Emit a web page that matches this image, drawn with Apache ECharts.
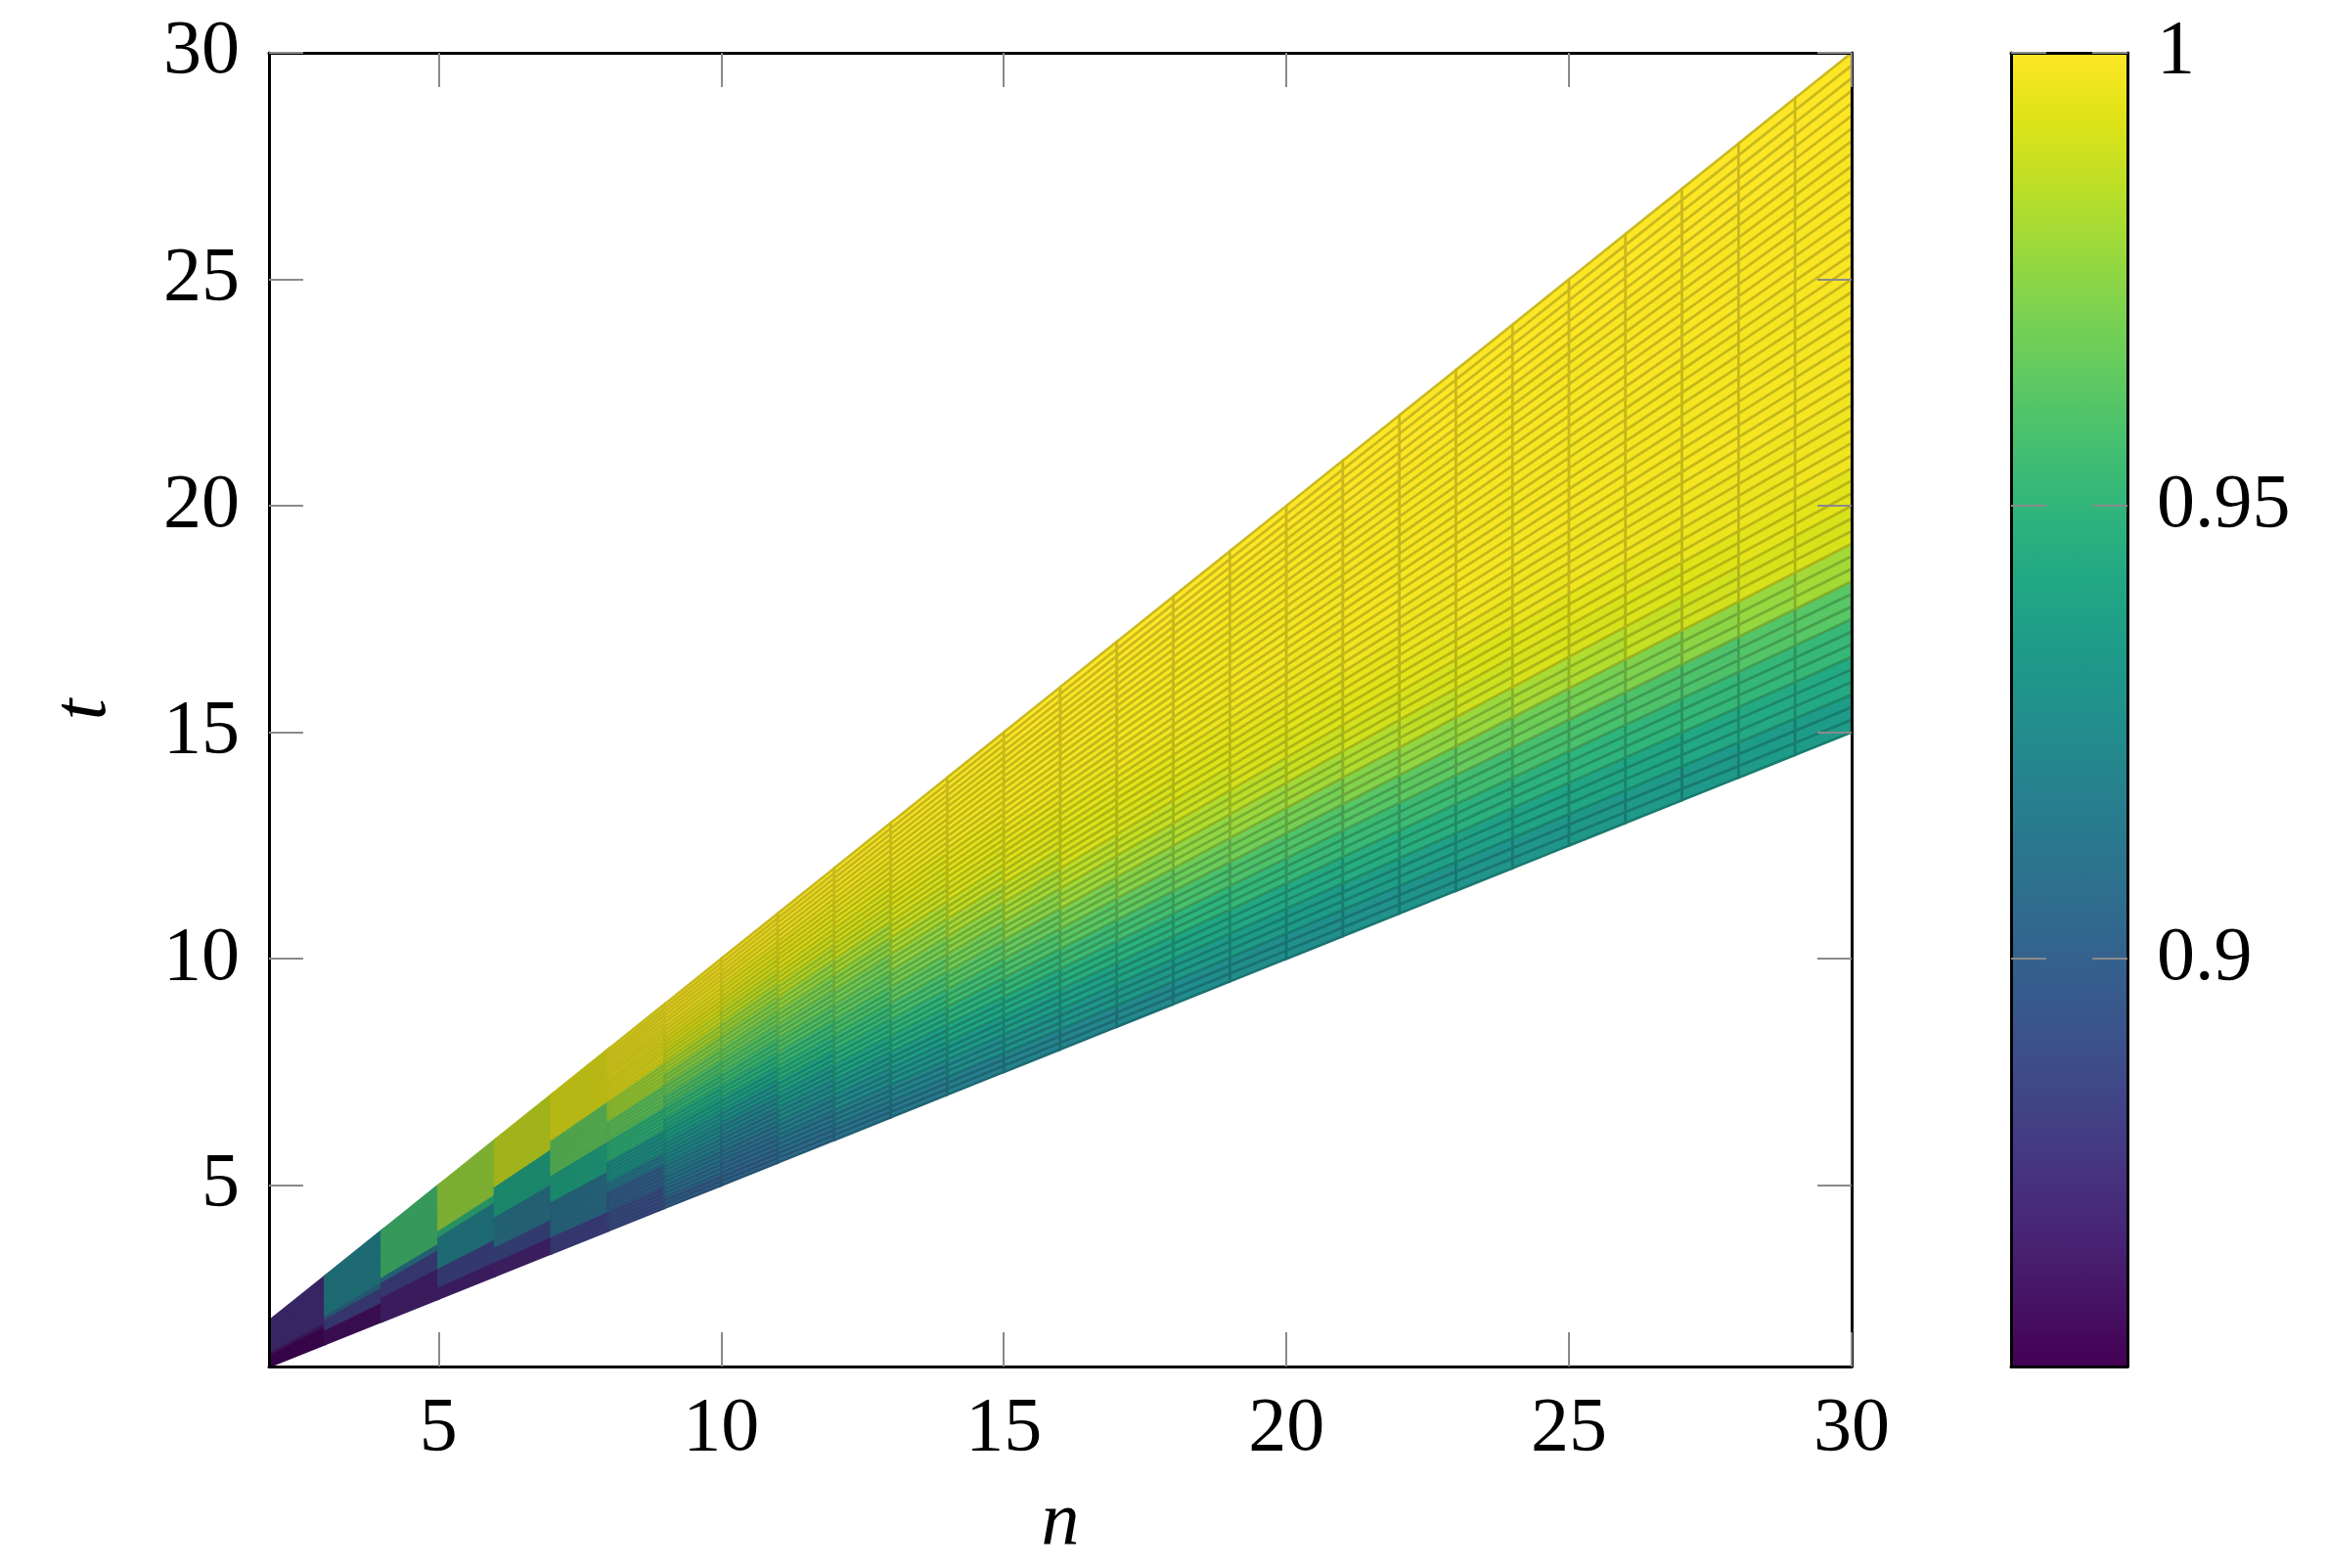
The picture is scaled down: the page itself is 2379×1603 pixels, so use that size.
<!DOCTYPE html>
<html>
<head>
<meta charset="utf-8">
<script src="https://cdn.jsdelivr.net/npm/echarts@6/dist/echarts.min.js"></script>
<style>html,body{margin:0;padding:0;background:#fff}#c{width:2379px;height:1603px}</style>
</head>
<body>
<div id="c"></div>
<script>
// ---- data ----
// left-corner n of each column of patches
const nValues = [2,3,4,5,6,7,8,9,10,11,12,13,14,15,16,17,18,19,20,21,22,23,24,25,26,27,28,29];
// value per band, from the lower edge t = n/2 (first) to the upper edge t = n (last)
const v02 = [.858,.858,.858,.858,.858,.866,.875,.875,.875,.875,.875,.875,.875,.875,.875,.875,.875,.875];
const v03 = [.862,.862,.862,.862,.884,.884,.884,.905,.920,.920,.920,.920,.920,.920,.920,.920,.920,.920];
const v04 = [.869,.869,.869,.869,.869,.884,.884,.884,.913,.956,.956,.956,.956,.956,.956,.956,.956,.956];
const v05 = [.869,.869,.885,.885,.885,.920,.920,.920,.920,.920,.950,.978,.978,.978,.978,.978,.978,.978];
const v06 = [.870,.870,.887,.887,.913,.913,.913,.913,.942,.942,.942,.942,.988,.988,.988,.988,.988,.988];
const v07 = [.884,.884,.910,.910,.910,.910,.942,.942,.942,.965,.965,.965,.965,.994,.994,.994,.994,.994];
const v08 = [.890,.890,.900,.900,.915,.930,.930,.950,.950,.965,.965,.980,.980,.995,.995,.996,.997,.997];
const v09 = [.899,.907,.912,.917,.923,.929,.937,.944,.952,.959,.967,.974,.982,.989,.993,.996,.998,.999];
const v10 = [.902,.905,.910,.915,.921,.928,.938,.947,.954,.961,.967,.973,.979,.986,.991,.994,.997,.999];
const v11 = [.907,.912,.917,.924,.931,.939,.947,.953,.960,.966,.971,.977,.984,.990,.993,.995,.997,.999];
const v12 = [.911,.917,.924,.931,.939,.946,.952,.958,.964,.969,.975,.981,.988,.991,.994,.996,.998,.999];
const v13 = [.914,.921,.929,.936,.944,.950,.957,.964,.970,.976,.982,.988,.991,.993,.996,.997,.998,.999];
const v14 = [.917,.925,.933,.941,.948,.955,.962,.969,.975,.981,.987,.991,.993,.995,.997,.998,.998,.999];
const v15 = [.920,.928,.936,.943,.951,.959,.966,.974,.980,.986,.991,.993,.995,.997,.998,.998,.999,1.0];
const v16 = [.922,.931,.938,.946,.954,.963,.971,.979,.985,.991,.992,.994,.996,.997,.998,.999,.999,1.0];
const v17 = [.923,.932,.940,.948,.956,.965,.974,.981,.987,.991,.993,.995,.997,.998,.998,.999,.999,1.0];
const v18 = [.925,.933,.941,.949,.958,.967,.976,.983,.989,.992,.994,.996,.997,.998,.998,.999,.999,1.0];
const v19 = [.926,.934,.942,.951,.959,.969,.978,.985,.991,.993,.995,.997,.998,.998,.998,.999,.999,1.0];
const v20 = [.927,.935,.943,.952,.960,.970,.980,.988,.992,.994,.996,.997,.998,.998,.999,.999,.999,1.0];
const v21 = [.928,.936,.945,.953,.962,.973,.983,.990,.993,.995,.997,.998,.998,.998,.999,.999,1.0,1.0];
const v22 = [.929,.937,.946,.954,.964,.976,.986,.991,.994,.996,.997,.998,.998,.998,.999,.999,1.0,1.0];
const v23 = [.930,.938,.947,.955,.966,.978,.989,.992,.995,.997,.998,.998,.998,.999,.999,.999,1.0,1.0];
const v24 = [.931,.939,.948,.957,.968,.981,.991,.993,.996,.997,.998,.998,.998,.999,.999,.999,1.0,1.0];
const v25 = [.932,.940,.949,.958,.970,.983,.991,.994,.997,.997,.998,.998,.998,.999,.999,.999,1.0,1.0];
const v26 = [.933,.941,.950,.959,.972,.987,.992,.995,.997,.997,.998,.998,.998,.999,.999,.999,1.0,1.0];
const v27 = [.933,.942,.951,.959,.975,.990,.993,.996,.997,.998,.998,.998,.998,.999,.999,.999,1.0,1.0];
const v28 = [.934,.943,.951,.961,.977,.991,.994,.996,.997,.998,.998,.998,.998,.999,.999,.999,1.0,1.0];
const v29 = [.935,.943,.952,.962,.980,.991,.994,.997,.997,.998,.998,.998,.999,.999,.999,.999,1.0,1.0];
const columns = [v02,v03,v04,v05,v06,v07,v08,v09,v10,v11,v12,v13,v14,v15,v16,v17,v18,v19,v20,v21,v22,v23,v24,v25,v26,v27,v28,v29];

const xTicks = [5,10,15,20,25,30];
const yTicks = [5,10,15,20,25,30];
const cbTicks = [0.9,0.95,1];
const colorMin = 0.855, colorMax = 1;

// ---- style ----
const VIRIDIS = ['#440154','#471365','#482475','#463480','#414487','#3b528b','#355f8d','#2f6c8e',
  '#2a788e','#25848e','#21918c','#1e9c89','#22a884','#2fb47c','#44bf70','#5ec962','#7ad151',
  '#9bd93c','#bddf26','#dfe318','#fde725'];
const FONT = "'Liberation Serif','Times New Roman',serif";
const ROWS_PER_BAND = 3;
const BANDS = v02.length;
const M = BANDS * ROWS_PER_BAND;

const surfData = [];
nValues.forEach(function (n, ci) {
  const col = columns[ci];
  for (let r = 0; r < M; r++) surfData.push([n, r, col[Math.floor(r / ROWS_PER_BAND)]]);
});

function darker(c) {
  const a = echarts.color.parse(c) || [0,0,0,1];
  return 'rgb(' + Math.round(a[0]*0.8) + ',' + Math.round(a[1]*0.8) + ',' + Math.round(a[2]*0.8) + ')';
}

const tickStyle = {color: '#8a8a8a', width: 2};
const lineStyle = {color: '#000', width: 3};
const labelStyle = {fontSize: 78, fontFamily: FONT, color: '#000'};

const chart = echarts.init(document.getElementById('c'), null, {renderer: 'canvas'});
chart.setOption({
  animation: false,
  backgroundColor: '#fff',
  grid: [
    {left: 275, top: 54, width: 1618, height: 1343, outerBoundsMode: 'none', containLabel: false},
    {left: 2056, top: 54, width: 119, height: 1343, outerBoundsMode: 'none', containLabel: false}
  ],
  xAxis: [
    {type: 'value', gridIndex: 0, position: 'bottom', min: 2, max: 30, z: 5,
     axisLine: {show: true, onZero: false, lineStyle: lineStyle},
     axisTick: {show: true, inside: true, length: 35, customValues: xTicks, lineStyle: tickStyle},
     axisLabel: Object.assign({show: true, margin: 26, customValues: xTicks}, labelStyle),
     splitLine: {show: false},
     name: 'n', nameLocation: 'middle', nameGap: 122,
     nameTextStyle: {fontSize: 78, fontFamily: FONT, fontStyle: 'italic', color: '#000'}},
    {type: 'value', gridIndex: 0, position: 'top', min: 2, max: 30, z: 5,
     axisLine: {show: true, onZero: false, lineStyle: lineStyle},
     axisTick: {show: true, inside: true, length: 35, customValues: xTicks, lineStyle: tickStyle},
     axisLabel: {show: false}, splitLine: {show: false}},
    {type: 'value', gridIndex: 1, position: 'bottom', min: 0, max: 1, z: 5,
     axisLine: {show: true, onZero: false, lineStyle: lineStyle},
     axisTick: {show: false}, axisLabel: {show: false}, splitLine: {show: false}},
    {type: 'value', gridIndex: 1, position: 'top', min: 0, max: 1, z: 5,
     axisLine: {show: true, onZero: false, lineStyle: lineStyle},
     axisTick: {show: false}, axisLabel: {show: false}, splitLine: {show: false}}
  ],
  yAxis: [
    {type: 'value', gridIndex: 0, position: 'left', min: 1, max: 30, z: 5,
     axisLine: {show: true, onZero: false, lineStyle: lineStyle},
     axisTick: {show: true, inside: true, length: 35, customValues: yTicks, lineStyle: tickStyle},
     axisLabel: Object.assign({show: true, margin: 30, customValues: yTicks}, labelStyle),
     splitLine: {show: false},
     name: 't', nameLocation: 'middle', nameGap: 150, nameRotate: 90,
     nameTextStyle: {fontSize: 78, fontFamily: FONT, fontStyle: 'italic', color: '#000'}},
    {type: 'value', gridIndex: 0, position: 'right', min: 1, max: 30, z: 5,
     axisLine: {show: true, onZero: false, lineStyle: lineStyle},
     axisTick: {show: true, inside: true, length: 35, customValues: yTicks, lineStyle: tickStyle},
     axisLabel: {show: false}, splitLine: {show: false}},
    {type: 'value', gridIndex: 1, position: 'right', min: colorMin, max: colorMax, z: 5,
     axisLine: {show: true, onZero: false, lineStyle: lineStyle},
     axisTick: {show: true, inside: true, length: 36, customValues: cbTicks, lineStyle: tickStyle},
     axisLabel: Object.assign({show: true, margin: 30, customValues: cbTicks}, labelStyle),
     splitLine: {show: false}},
    {type: 'value', gridIndex: 1, position: 'left', min: colorMin, max: colorMax, z: 5,
     axisLine: {show: true, onZero: false, lineStyle: lineStyle},
     axisTick: {show: true, inside: true, length: 36, customValues: cbTicks, lineStyle: tickStyle},
     axisLabel: {show: false}, splitLine: {show: false}}
  ],
  visualMap: {
    type: 'continuous', show: false, min: colorMin, max: colorMax, dimension: 2,
    seriesIndex: 0, inRange: {color: VIRIDIS}
  },
  series: [
    {
      type: 'custom', xAxisIndex: 0, yAxisIndex: 0, z: 2, clip: true, progressive: 0,
      data: surfData,
      encode: {x: 0, y: 1},
      renderItem: function (params, api) {
        const n = api.value(0), r = api.value(1);
        const s0 = 0.5 + 0.5 * r / M, s1 = 0.5 + 0.5 * (r + 1) / M;
        const pts = [
          api.coord([n, s0 * n]), api.coord([n + 1, s0 * (n + 1)]),
          api.coord([n + 1, s1 * (n + 1)]), api.coord([n, s1 * n])
        ];
        const fill = api.visual('color');
        return {type: 'polygon', shape: {points: pts},
                style: {fill: fill, stroke: darker(fill), lineWidth: 2.6}};
      }
    },
    {
      type: 'custom', xAxisIndex: 2, yAxisIndex: 2, z: 2, clip: false,
      data: [[0, colorMin]],
      renderItem: function (params, api) {
        const p0 = api.coord([0, colorMax]);
        const p1 = api.coord([1, colorMin]);
        const stops = VIRIDIS.map(function (c, i) { return {offset: i / (VIRIDIS.length - 1), color: c}; });
        return {type: 'rect',
                shape: {x: p0[0], y: p0[1], width: p1[0] - p0[0], height: p1[1] - p0[1]},
                style: {fill: new echarts.graphic.LinearGradient(0, 1, 0, 0, stops)}};
      }
    }
  ]
});
</script>
</body>
</html>
